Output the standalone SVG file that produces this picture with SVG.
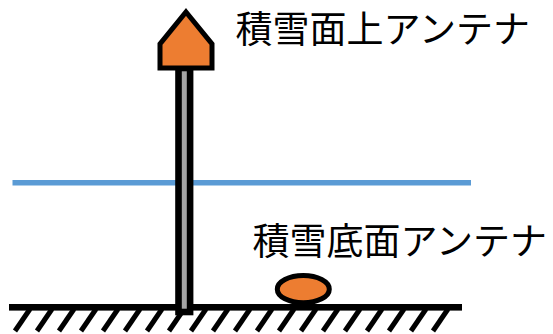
<svg xmlns="http://www.w3.org/2000/svg" width="553" height="334" viewBox="0 0 553 334">
  <style>
    .label { font-family: "Noto Sans CJK JP", "Noto Sans", sans-serif; font-size: 37px; fill: #000; }
    .antenna { fill: #ed7d31; stroke: #000; stroke-width: 5; stroke-linejoin: miter; }
    .hatch { stroke: #000; stroke-width: 5; }
  </style>

  <!-- snow surface -->
  <line x1="12.5" y1="182.8" x2="471" y2="182.8" stroke="#5b9bd5" stroke-width="5.5"/>

  <!-- ground with hatching -->
  <g id="ground">
    <rect x="9" y="304" width="453" height="6.6" fill="#000"/>
    <g class="hatch">
      <line x1="30" y1="309" x2="15" y2="331"/>
      <line x1="52" y1="309" x2="37" y2="331"/>
      <line x1="74" y1="309" x2="59" y2="331"/>
      <line x1="96" y1="309" x2="81" y2="331"/>
      <line x1="118" y1="309" x2="103" y2="331"/>
      <line x1="140" y1="309" x2="125" y2="331"/>
      <line x1="162" y1="309" x2="147" y2="331"/>
      <line x1="184" y1="309" x2="169" y2="331"/>
      <line x1="206" y1="309" x2="191" y2="331"/>
      <line x1="228" y1="309" x2="213" y2="331"/>
      <line x1="250" y1="309" x2="235" y2="331"/>
      <line x1="272" y1="309" x2="257" y2="331"/>
      <line x1="294" y1="309" x2="279" y2="331"/>
      <line x1="316" y1="309" x2="301" y2="331"/>
      <line x1="338" y1="309" x2="323" y2="331"/>
      <line x1="360" y1="309" x2="345" y2="331"/>
      <line x1="382" y1="309" x2="367" y2="331"/>
      <line x1="404" y1="309" x2="389" y2="331"/>
      <line x1="426" y1="309" x2="411" y2="331"/>
      <line x1="448" y1="309" x2="433" y2="331"/>
    </g>
  </g>

  <!-- antenna mounted above the snow -->
  <g id="surface-antenna">
    <rect x="178.5" y="68" width="11.6" height="244" fill="#a5a5a5" stroke="#000" stroke-width="6.6"/>
    <path class="antenna" d="M186 12 L212 44 L212 68 L160 68 L160 44 Z"/>
    <text class="label" x="235.5" y="42.5">積雪面上アンテナ</text>
  </g>

  <!-- antenna at the snow base -->
  <g id="base-antenna">
    <ellipse class="antenna" cx="303.3" cy="289.2" rx="26" ry="13.6"/>
    <text class="label" x="252.5" y="255">積雪底面アンテナ</text>
  </g>
</svg>
